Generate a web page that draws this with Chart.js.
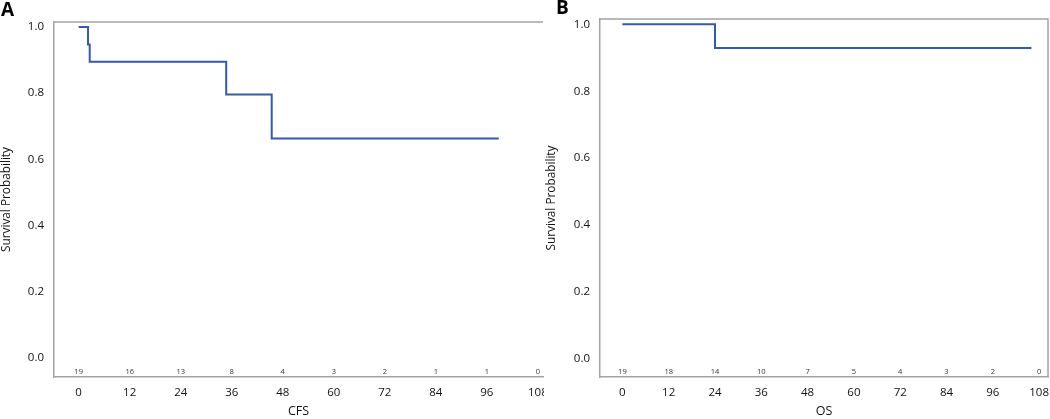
<!DOCTYPE html>
<html>
<head>
<meta charset="utf-8">
<script src="https://cdn.jsdelivr.net/npm/chart.js@4.4.1/dist/chart.umd.min.js"></script>
<style>
  html, body { margin: 0; padding: 0; background: #fff; }
  body { width: 1050px; height: 419px; position: relative; overflow: hidden; font-family: "Open Sans", "DejaVu Sans", sans-serif; }
  .panel { position: absolute; top: 0; height: 419px; overflow: hidden; }
  #wrapA { left: 0; width: 544px; }
  #wrapB { left: 545px; width: 505px; }
  #wrapA canvas { width: 560px !important; height: 419px !important; }
  #wrapB canvas { width: 505px !important; height: 419px !important; }
  .lbl { position: absolute; font-weight: bold; font-size: 19px; line-height: 19px; color: #000; }
</style>
</head>
<body>
<div class="panel" id="wrapA"><canvas id="cA" width="560" height="419"></canvas></div>
<div class="panel" id="wrapB"><canvas id="cB" width="505" height="419"></canvas></div>
<div class="lbl" style="left:1px; top:0px;">A</div>
<div class="lbl" style="left:556px; top:-2px;">B</div>
<script>
// ---- Data ----
const xTicks = [0, 12, 24, 36, 48, 60, 72, 84, 96, 108];
const yTicks = [0, 0.2, 0.4, 0.6, 0.8, 1.0];

// Panel A: CFS Kaplan-Meier step points
const cfsTime = [0, 2.2, 2.6, 34.7, 45.4, 98.8];
const cfsSurv = [1.0, 0.947, 0.895, 0.796, 0.663, 0.663];
const cfsAtRisk = [19, 16, 13, 8, 4, 3, 2, 1, 1, 0];

// Panel B: OS Kaplan-Meier step points
const osTime = [0, 24.0, 106.0];
const osSurv = [1.0, 0.929, 0.929];
const osAtRisk = [19, 18, 14, 10, 7, 5, 4, 3, 2, 0];

const lineColor = '#3558b0';
const axisColor = '#a3a3a3';
const textColor = '#111';
const fam = '"Open Sans", "DejaVu Sans", sans-serif';

function makeChart(id, times, surv, atRisk, xTitle, cfg) {
  const pts = times.map((t, i) => ({ x: t, y: surv[i] }));
  const extras = {
    id: 'extras' + id,
    afterDraw(chart) {
      const ctx = chart.ctx;
      const a = chart.chartArea;
      const xs = chart.scales.x;
      ctx.save();
      ctx.strokeStyle = axisColor;
      ctx.lineWidth = 1.5;
      ctx.beginPath();
      ctx.moveTo(a.left, a.top);
      ctx.lineTo(a.right, a.top);
      if (cfg.rightBorder) { ctx.lineTo(a.right, a.bottom); }
      ctx.stroke();
      ctx.fillStyle = '#333';
      ctx.font = '7.5px ' + fam;
      ctx.textAlign = 'center';
      ctx.textBaseline = 'middle';
      xTicks.forEach((v, i) => {
        ctx.fillText(String(atRisk[i]), xs.getPixelForValue(v), a.bottom - 5);
      });
      ctx.restore();
    }
  };
  return new Chart(document.getElementById(id), {
    type: 'scatter',
    data: {
      datasets: [{
        data: pts,
        showLine: true,
        stepped: true,
        borderColor: lineColor,
        borderWidth: 2,
        pointRadius: 0,
        fill: false
      }]
    },
    options: {
      responsive: false,
      animation: false,
      devicePixelRatio: 1,
      layout: { padding: { left: 0, top: cfg.top, right: cfg.right, bottom: 0 } },
      plugins: { legend: { display: false }, tooltip: { enabled: false } },
      scales: {
        x: {
          type: 'linear',
          min: cfg.xmin, max: cfg.xmax,
          afterBuildTicks: s => { s.ticks = xTicks.map(v => ({ value: v })); },
          afterFit: s => { s.height = 42; s.paddingLeft = 0; s.paddingRight = 0; },
          grid: { display: false, drawOnChartArea: false, drawTicks: true, tickLength: 5, tickColor: axisColor, tickWidth: 1.5 },
          border: { display: true, color: axisColor, width: 1.5 },
          ticks: { color: textColor, padding: 4, maxRotation: 0, autoSkip: false, font: { size: 11.5, family: fam } },
          title: { display: true, text: xTitle, color: textColor, padding: 0, font: { size: 12.5, family: fam } }
        },
        y: {
          type: 'linear',
          min: cfg.ymin, max: cfg.ymax,
          afterBuildTicks: s => { s.ticks = yTicks.map(v => ({ value: v })); },
          afterFit: s => { s.width = cfg.yw; s.paddingTop = 0; s.paddingBottom = 0; },
          grid: { display: false, drawOnChartArea: false, drawTicks: true, tickLength: 6, tickColor: axisColor, tickWidth: 1.5 },
          border: { display: true, color: axisColor, width: 1.5 },
          ticks: { color: textColor, padding: 4, font: { size: 11.5, family: fam }, callback: v => Number(v).toFixed(1) },
          title: { display: true, text: 'Survival Probability', color: textColor, padding: 0, font: { size: 11.8, family: fam } }
        }
      }
    },
    plugins: [extras]
  });
}

makeChart('cA', cfsTime, cfsSurv, cfsAtRisk, 'CFS',
  { top: 22, right: 17, yw: 54, xmin: -5.8, xmax: 109.2, ymin: -0.058, ymax: 1.015, rightBorder: false });
makeChart('cB', osTime, osSurv, osAtRisk, 'OS',
  { top: 19, right: 2, yw: 55, xmin: -5.8, xmax: 110.3, ymin: -0.054, ymax: 1.016, rightBorder: true });
</script>
</body>
</html>
